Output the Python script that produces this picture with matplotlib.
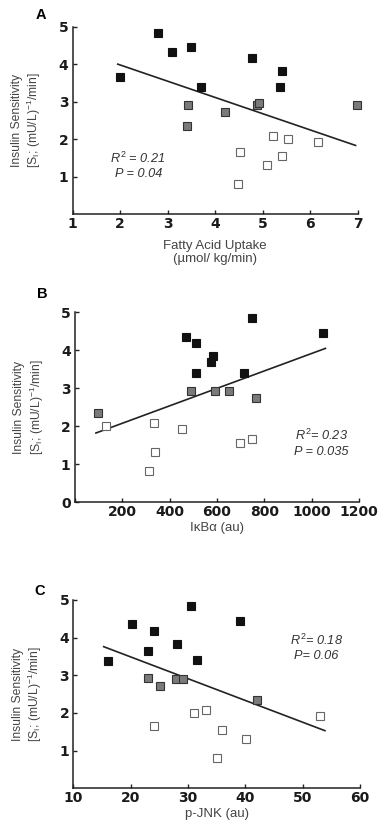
import matplotlib.pyplot as plt

plt.rcParams['font.family'] = ['Liberation Sans', 'DejaVu Sans']
plt.rcParams['mathtext.fontset'] = 'custom'
plt.rcParams['mathtext.rm'] = 'Liberation Sans'
plt.rcParams['mathtext.it'] = 'Liberation Sans:italic'

# Panel A: fatty acid uptake vs insulin sensitivity
a_black_x = [1.99, 2.79, 3.09, 3.49, 3.70, 4.78, 5.41, 5.36]
a_black_y = [3.66, 4.84, 4.33, 4.45, 3.38, 4.17, 3.83, 3.40]
a_gray_x = [3.42, 3.40, 4.21, 4.87, 4.92, 6.97]
a_gray_y = [2.92, 2.35, 2.73, 2.90, 2.95, 2.90]
a_white_x = [4.52, 4.47, 5.08, 5.22, 5.53, 5.41, 6.16]
a_white_y = [1.66, 0.81, 1.31, 2.09, 2.00, 1.55, 1.92]
a_line_x = [1.95, 6.95]
a_line_y = [4.00, 1.83]

# Panel B: IkBa
b_black_x = [469, 510, 513, 582, 573, 748, 715, 1046]
b_black_y = [4.36, 4.18, 3.41, 3.85, 3.68, 4.85, 3.39, 4.45]
b_gray_x = [99, 489, 593, 652, 765]
b_gray_y = [2.36, 2.93, 2.92, 2.94, 2.74]
b_white_x = [132, 335, 338, 311, 454, 699, 749]
b_white_y = [2.01, 2.09, 1.31, 0.82, 1.92, 1.56, 1.67]
b_line_x = [89, 1058]
b_line_y = [1.82, 4.05]

# Panel C: p-JNK
c_black_x = [16.1, 20.2, 23.1, 24.1, 28.1, 30.6, 31.6, 39.0]
c_black_y = [3.39, 4.35, 3.65, 4.17, 3.83, 4.84, 3.40, 4.44]
c_gray_x = [23.1, 25.1, 28.0, 29.1, 42.0]
c_gray_y = [2.93, 2.71, 2.90, 2.90, 2.34]
c_white_x = [24.1, 31.1, 33.1, 36.0, 35.1, 40.2, 53.1]
c_white_y = [1.66, 2.00, 2.08, 1.55, 0.80, 1.30, 1.92]
c_line_x = [15.3, 53.9]
c_line_y = [3.76, 1.53]

ylabel = 'Insulin Sensitivity\n[S$_\\mathregular{I}$; (mU/L)$^\\mathregular{-1}$/min]'

fig = plt.figure(figsize=(3.78, 8.34), dpi=100)

panels = [
    dict(rect=[0.192, 0.7434, 0.755, 0.2246], tag='A', tag_xy=(0.108, 0.982),
         black=(a_black_x, a_black_y), gray=(a_gray_x, a_gray_y), white=(a_white_x, a_white_y),
         line=(a_line_x, a_line_y), xlim=(1, 7), xticks=[1, 2, 3, 4, 5, 6, 7],
         xticklabels=['1', '2', '3', '4', '5', '6', '7'],
         yticks=[1, 2, 3, 4, 5], yticklabels=['1', '2', '3', '4', '5'],
         xlabel='Fatty Acid Uptake\n(\u00b5mol/ kg/min)', xlab_y=-0.138,
         stats=['$R^2$ = 0.21', 'P = 0.04'], stat_pos=[(2.38, 1.49), (2.38, 1.07)]),
    dict(rect=[0.198, 0.398, 0.752, 0.2275], tag='B', tag_xy=(0.111, 0.6475),
         black=(b_black_x, b_black_y), gray=(b_gray_x, b_gray_y), white=(b_white_x, b_white_y),
         line=(b_line_x, b_line_y), xlim=(0, 1200), xticks=[0, 200, 400, 600, 800, 1000, 1200],
         xticklabels=['', '200', '400', '600', '800', '1000', '1200'],
         yticks=[0, 1, 2, 3, 4, 5], yticklabels=['0', '1', '2', '3', '4', '5'],
         xlabel='I\u03baB\u03b1 (au)', xlab_y=-0.105,
         stats=['$R^2$= 0.23', 'P = 0.035'], stat_pos=[(1040, 1.77), (1040, 1.33)]),
    dict(rect=[0.194, 0.0548, 0.758, 0.2258], tag='C', tag_xy=(0.106, 0.2914),
         black=(c_black_x, c_black_y), gray=(c_gray_x, c_gray_y), white=(c_white_x, c_white_y),
         line=(c_line_x, c_line_y), xlim=(10, 60), xticks=[10, 20, 30, 40, 50, 60],
         xticklabels=['10', '20', '30', '40', '50', '60'],
         yticks=[1, 2, 3, 4, 5], yticklabels=['1', '2', '3', '4', '5'],
         xlabel='p-JNK (au)', xlab_y=-0.104,
         stats=['$R^2$= 0.18', 'P= 0.06'], stat_pos=[(52.4, 3.94), (52.4, 3.50)]),
]

for p in panels:
    ax = fig.add_axes(p['rect'])
    ax.plot(*p['line'], color='#222222', lw=1.2, zorder=2)
    ax.plot(*p['black'], 's', ms=6, mfc='#111111', mec='#111111', mew=0.8, ls='none',
            zorder=3, clip_on=False)
    ax.plot(*p['gray'], 's', ms=6, mfc='#7a7a7a', mec='#333333', mew=0.8, ls='none',
            zorder=3, clip_on=False)
    ax.plot(*p['white'], 's', ms=6, mfc='white', mec='#666666', mew=0.8, ls='none',
            zorder=3, clip_on=False)
    ax.set_xlim(*p['xlim'])
    ax.set_ylim(0, 5)
    ax.set_xticks(p['xticks'])
    ax.set_xticklabels(p['xticklabels'])
    ax.set_yticks(p['yticks'])
    ax.set_yticklabels(p['yticklabels'])
    ax.tick_params(labelsize=10, width=1.0, length=3, color='#222222', direction='in')
    ax.tick_params(axis='x', pad=2)
    ax.tick_params(axis='y', pad=3)
    for lab in ax.get_xticklabels() + ax.get_yticklabels():
        lab.set_fontweight('bold')
        lab.set_family('DejaVu Sans')
        lab.set_color('#1a1a1a')
    for side in ['top', 'right']:
        ax.spines[side].set_visible(False)
    for side in ['left', 'bottom']:
        ax.spines[side].set_linewidth(1.1)
        ax.spines[side].set_color('#222222')
    ax.set_ylabel(ylabel, fontsize=8.7, color='#444444', linespacing=1.15)
    ax.yaxis.set_label_coords(-0.103, 0.5)
    ax.set_xlabel(p['xlabel'], fontsize=9.5, color='#444444', linespacing=1.1)
    ax.xaxis.set_label_coords(0.5, p['xlab_y'])
    for s, (sx, sy) in zip(p['stats'], p['stat_pos']):
        ax.text(sx, sy, s, fontsize=9.2, style='italic', color='#333333',
                ha='center', va='center')
    fig.text(*p['tag_xy'], p['tag'], fontsize=10.5, fontweight='bold',
             ha='center', va='center')

fig.savefig('out.png', dpi=100)
